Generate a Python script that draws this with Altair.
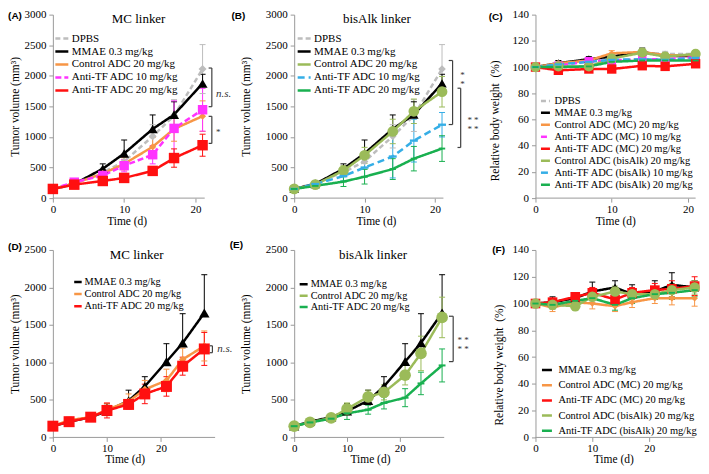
import altair as alt
import pandas as pd

SERIF = "Liberation Serif"
SANS = "Liberation Sans"
AXIS_GREY = "#9a9a9a"
BRACKET = "#404040"
DASH_PATH = "M-1,-0.3L1,-0.3L1,0.3L-1,0.3Z"

# ---------------- time points (days)
days_21 = [0, 3, 7, 10, 14, 17, 21]
days_28 = [0, 3, 7, 10, 14, 17, 21, 24, 28]

# ---------------- tumor volume (mm3), 21-day study (A, B)
tv_dpbs = [150, 250, 420, 600, 1010, 1350, 2110]
tv_dpbs_err = [20, 40, 70, 120, 190, 260, 400]
tv_mmae = [150, 230, 480, 730, 1130, 1365, 1875]
tv_mmae_err = [20, 40, 80, 220, 230, 210, 150]
tv_ctrl_mc = [150, 240, 400, 560, 840, 1130, 1340]
tv_ctrl_mc_err = [20, 40, 60, 100, 150, 200, 250]
tv_tf10_mc = [150, 260, 370, 530, 710, 1140, 1445]
tv_tf10_mc_err = [20, 40, 60, 100, 150, 450, 350]
tv_tf20_mc = [150, 220, 280, 330, 445, 655, 865]
tv_tf20_mc_err = [20, 30, 40, 50, 60, 150, 180]
tv_ctrl_bis = [150, 220, 450, 700, 1090, 1420, 1740]
tv_ctrl_bis_err = [30, 50, 80, 130, 200, 200, 250]
tv_tf10_bis = [150, 230, 360, 500, 680, 940, 1200]
tv_tf10_bis_err = [20, 40, 80, 150, 350, 350, 200]
tv_tf20_bis = [150, 200, 270, 350, 475, 645, 810]
tv_tf20_bis_err = [20, 40, 80, 120, 170, 200, 210]

# ---------------- relative body weight (%), 21-day study (C)
bw_dpbs = [100, 103, 105, 108, 111, 110, 110]
bw_dpbs_err = [0, 2, 2, 2, 3, 2, 2]
bw_mmae = [100, 103, 106, 108, 111.5, 108.5, 108.5]
bw_mmae_err = [0, 2, 2, 2, 3, 2, 4]
bw_ctrl_mc = [100, 103, 105, 110.5, 111.5, 109, 109]
bw_ctrl_mc_err = [0, 1, 1, 2, 2, 2, 2]
bw_tf10_mc = [100, 101, 104.5, 105, 106, 106, 107.5]
bw_tf10_mc_err = [0, 1, 1, 2, 2, 2, 2]
bw_tf20_mc = [100, 97.5, 98.5, 98.5, 101, 100.5, 102.5]
bw_tf20_mc_err = [0, 1, 1, 2, 2, 2, 2]
bw_ctrl_bis = [100, 100.5, 100.5, 106.5, 111, 108, 110]
bw_ctrl_bis_err = [0, 1, 1, 2, 2, 2, 2]
bw_tf10_bis = [100, 102, 104, 105.5, 106, 105.5, 107]
bw_tf10_bis_err = [0, 1, 1, 2, 2, 2, 2]
bw_tf20_bis = [100, 100, 100.5, 104, 105, 105, 105]
bw_tf20_bis_err = [0, 1, 1, 2, 2, 2, 2]

# ---------------- tumor volume (mm3), 28-day study (D, E)
tvl_mmae = [150, 210, 270, 350, 490, 680, 1010, 1260, 1660]
tvl_mmae_err = [20, 30, 40, 100, 140, 130, 240, 390, 510]
tvl_ctrl_mc = [150, 230, 270, 370, 480, 640, 760, 1040, 1220]
tvl_ctrl_mc_err = [20, 40, 40, 80, 100, 120, 150, 150, 200]
tvl_tf20_mc = [150, 210, 270, 360, 440, 580, 680, 950, 1180]
tvl_tf20_mc_err = [20, 30, 40, 100, 60, 130, 130, 120, 220]
tvl_ctrl_bis = [150, 200, 260, 380, 540, 600, 830, 1120, 1600]
tvl_ctrl_bis_err = [20, 40, 40, 80, 90, 100, 130, 230, 270]
tvl_tf20_bis = [150, 200, 250, 320, 370, 460, 530, 720, 960]
tvl_tf20_bis_err = [20, 40, 40, 80, 60, 80, 120, 150, 220]

# ---------------- relative body weight (%), 28-day study (F)
bwl_mmae = [100, 101, 104, 109, 112, 107, 109, 114, 112]
bwl_mmae_err = [0, 4, 3, 7, 5, 7, 8, 9, 5]
bwl_ctrl_mc = [100, 97, 101, 100, 98, 101, 104, 104, 104]
bwl_ctrl_mc_err = [2, 3, 3, 4, 4, 4, 4, 5, 6]
bwl_tf20_mc = [100, 101, 105, 108, 103, 108, 110, 111, 113]
bwl_tf20_mc_err = [2, 3, 3, 4, 4, 4, 5, 6, 7]
bwl_ctrl_bis = [100, 99, 98, 105, 109, 107, 107, 110, 112]
bwl_ctrl_bis_err = [2, 3, 3, 4, 4, 4, 4, 5, 5]
bwl_tf20_bis = [100, 99, 102, 104, 99, 104, 107, 108, 110]
bwl_tf20_bis_err = [2, 3, 3, 4, 4, 4, 4, 5, 5]

# ---------------- significance brackets (x, x_tick, y_low, y_high) and labels
br_A = [(22.3, 21.85, 1495, 2127), (22.3, 21.85, 895, 1337)]
br_A_txt = [(22.9, 1700, "n.s.", True), (23.2, 1080, "*", False)]
br_B = [(22.5, 21.95, 1203, 2250), (23.65, 23.2, 828, 1797)]
br_B_txt = [(23.9, 2020, "*\n*", False), (25.4, 1280, "* *\n* *", False)]
br_D = [(29.5, 29.0, 1130, 1222)]
br_D_txt = [(30.4, 1176, "n.s.", True)]
br_E = [(30.1, 29.3, 1011, 1616)]
br_E_txt = [(32.0, 1300, "* *\n* *", False)]

# ---------------- series styles: colour, dash, marker, marker size
STYLE = {
    "dpbs": ("#BDBDBD", [5, 3], "diamond", 64),
    "mmae": ("#000000", [1, 0], "triangle-up", 100),
    "ctrl_mc": ("#F79646", [1, 0], "diamond", 50),
    "tf10_mc": ("#FF33FF", [6, 3], "square", 90),
    "tf20_mc": ("#FF1010", [1, 0], "square", 110),
    "ctrl_bis": ("#9BBB59", [1, 0], "circle", 130),
    "tf10_bis": ("#35AEE6", [7, 4], DASH_PATH, 70),
    "tf20_bis": ("#19B050", [1, 0], DASH_PATH, 45),
}

W = 160


def panel(cfg):
    rows, caps = [], []
    for label, key, vals, errs in cfg["series"]:
        col, dash, shp, sz = STYLE[key]
        up_only = key == "mmae"
        for t, v, e in zip(cfg["days"], vals, errs):
            lo = v if up_only else v - e
            hi = v + e
            rows.append({"series": label, "t": t, "v": v, "lo": lo, "hi": hi,
                         "col": col, "shp": shp, "sz": sz * cfg["msize"]})
            if e > 0:
                caps.append({"t": t, "y": hi, "col": col})
                if not up_only:
                    caps.append({"t": t, "y": lo, "col": col})
    df = pd.DataFrame(rows)
    cdf = pd.DataFrame(caps)
    labels = [s[0] for s in cfg["series"]]
    keys = [s[1] for s in cfg["series"]]
    colors = [STYLE[k][0] for k in keys]
    dashes = [STYLE[k][1] for k in keys]

    xs = alt.Scale(domain=[0, cfg["xmax"]], nice=False, zero=False)
    ys = alt.Scale(domain=cfg["ydom"], nice=False, zero=False)
    x_axis = alt.Axis(values=[0, 10, 20], domain=False, grid=False, tickSize=4,
                      tickColor=AXIS_GREY, labelPadding=cfg["xlp"], labelFlush=False,
                      labelFont=SERIF, labelFontSize=11, labelColor="black",
                      title="Time (d)", titleFont=SERIF, titleFontSize=11.5,
                      titleFontWeight="normal", titleColor="black",
                      titleX=cfg["xtx"], titleY=cfg["xty"], titleBaseline="middle",
                      titleAlign="center")
    y_axis = alt.Axis(values=cfg["yvals"], format="d", grid=False, tickSize=4,
                      tickColor=AXIS_GREY, domainColor=AXIS_GREY, labelPadding=3,
                      labelFont=SERIF, labelFontSize=11, labelColor="black",
                      title=cfg["ytitle"], titleFont=SERIF, titleFontSize=11.5,
                      titleFontWeight="normal", titleColor="black",
                      titleX=cfg["ytx"], titleY=cfg["yty"], titleAngle=270,
                      titleBaseline="middle", titleAlign="center")
    lgx, lgy, L, fs, rp, lo = cfg["legend"]
    lg = alt.Legend(orient="none", legendX=lgx, legendY=lgy, title=None,
                    symbolType="stroke", symbolSize=L * L, symbolStrokeWidth=2.5,
                    labelFont=SERIF, labelFontSize=fs, labelColor="black",
                    rowPadding=rp, labelOffset=lo, padding=0)

    def X(f):
        return alt.X(f, scale=xs, axis=x_axis)

    def Y(f):
        return alt.Y(f, scale=ys, axis=y_axis)

    layers = []
    axl = alt.Chart(pd.DataFrame({"x0": [0], "x1": [cfg["xend"]], "y0": [cfg["ydom"][0]]})).mark_rule(
        color=AXIS_GREY, strokeWidth=1).encode(x=X("x0:Q"), x2="x1:Q", y=Y("y0:Q"))
    layers.append(axl)

    err = alt.Chart(df).mark_rule(strokeWidth=1).encode(
        x=X("t:Q"), y=Y("lo:Q"), y2="hi:Q", stroke=alt.Stroke("col:N", scale=None))
    layers.append(err)
    capm = alt.Chart(cdf).mark_point(shape="stroke", filled=False, size=36, strokeWidth=1, opacity=1).encode(
        x=X("t:Q"), y=Y("y:Q"), stroke=alt.Stroke("col:N", scale=None))
    layers.append(capm)

    line = alt.Chart(df).mark_line(strokeWidth=2.5, strokeJoin="round").encode(
        x=X("t:Q"), y=Y("v:Q"),
        color=alt.Color("series:N", scale=alt.Scale(domain=labels, range=colors), legend=lg),
        strokeDash=alt.StrokeDash("series:N", scale=alt.Scale(domain=labels, range=dashes), legend=lg),
    )
    layers.append(line)

    pts = alt.Chart(df).mark_point(filled=True, opacity=1, strokeWidth=0).encode(
        x=X("t:Q"), y=Y("v:Q"),
        fill=alt.Fill("col:N", scale=None),
        shape=alt.Shape("shp:N", scale=None),
        size=alt.Size("sz:Q", scale=None))
    layers.append(pts)

    if cfg.get("brackets"):
        segs = []
        for bx, bt, ylo, yhi in cfg["brackets"]:
            segs.append({"x": bx, "x2": bx, "y": ylo, "y2": yhi})
            segs.append({"x": bt, "x2": bx, "y": ylo, "y2": ylo})
            segs.append({"x": bt, "x2": bx, "y": yhi, "y2": yhi})
        layers.append(alt.Chart(pd.DataFrame(segs)).mark_rule(color=BRACKET, strokeWidth=1.2).encode(
            x=X("x:Q"), x2="x2:Q", y=Y("y:Q"), y2="y2:Q"))
        tdf = pd.DataFrame([{"x": a, "y": b, "txt": c, "it": d} for a, b, c, d in cfg["btext"]])
        it = tdf[tdf["it"]]
        pl = tdf[~tdf["it"]]
        if len(it):
            layers.append(alt.Chart(it).mark_text(font=SERIF, fontSize=11, fontStyle="italic",
                                                  align="left", baseline="middle", color="#333333").encode(
                x=X("x:Q"), y=Y("y:Q"), text="txt:N"))
        if len(pl):
            layers.append(alt.Chart(pl).mark_text(font=SERIF, fontSize=9, align="center", baseline="middle",
                                                  lineBreak="\n", lineHeight=9, color="#333333").encode(
                x=X("x:Q"), y=Y("y:Q"), text="txt:N"))

    if cfg.get("title"):
        tt, tx, ty = cfg["title"]
        layers.append(alt.Chart(pd.DataFrame({"s": [tt]})).mark_text(
            font=SERIF, fontSize=13, align="center", baseline="middle", color="black").encode(
            text="s:N", x=alt.value(tx), y=alt.value(ty)))
    lt, lx, ly = cfg["letter"]
    layers.append(alt.Chart(pd.DataFrame({"s": [lt]})).mark_text(
        font=SANS, fontSize=10, fontWeight="bold", align="center", baseline="middle", color="black").encode(
        text="s:N", x=alt.value(lx), y=alt.value(ly)))

    return alt.layer(*layers).properties(width=W, height=cfg["h"])


TV_TITLE = "Tumor volume (mm³)"
BW_TITLE = "Relative body weight\u00a0 (%)"
TV_TICKS_3000 = [0, 500, 1000, 1500, 2000, 2500, 3000]
TV_TICKS_2500 = [0, 500, 1000, 1500, 2000, 2500]
BW_TICKS = [0, 20, 40, 60, 80, 100, 120, 140]

cfgA = dict(days=days_21, xmax=22.38, xend=21.3, ydom=[0, 3000], yvals=TV_TICKS_3000, h=184,
            ytitle=TV_TITLE, ytx=-37, yty=92, xtx=74, xty=23, xlp=1.5, msize=1.0,
            legend=(1, 16, 13, 11, -1.8, 2), title=("MC linker", 86, 4), letter=("(A)", -38, 1),
            brackets=br_A, btext=br_A_txt,
            series=[("DPBS", "dpbs", tv_dpbs, tv_dpbs_err),
                    ("MMAE 0.3 mg/kg", "mmae", tv_mmae, tv_mmae_err),
                    ("Control ADC 20 mg/kg", "ctrl_mc", tv_ctrl_mc, tv_ctrl_mc_err),
                    ("Anti-TF ADC 10 mg/kg", "tf10_mc", tv_tf10_mc, tv_tf10_mc_err),
                    ("Anti-TF ADC 20 mg/kg", "tf20_mc", tv_tf20_mc, tv_tf20_mc_err)])
cfgB = dict(days=days_21, xmax=22.66, xend=21.2, ydom=[0, 3000], yvals=TV_TICKS_3000, h=184,
            ytitle=TV_TITLE, ytx=-48, yty=92, xtx=82, xty=23, xlp=1.5, msize=0.9,
            legend=(2, 16, 13, 11, -1.8, 2), title=("bisAlk linker", 83, 4), letter=("(B)", -56, 1),
            brackets=br_B, btext=br_B_txt,
            series=[("DPBS", "dpbs", tv_dpbs, tv_dpbs_err),
                    ("MMAE 0.3 mg/kg", "mmae", tv_mmae, tv_mmae_err),
                    ("Control ADC 20 mg/kg", "ctrl_bis", tv_ctrl_bis, tv_ctrl_bis_err),
                    ("Anti-TF ADC 10 mg/kg", "tf10_bis", tv_tf10_bis, tv_tf10_bis_err),
                    ("Anti-TF ADC 20 mg/kg", "tf20_bis", tv_tf20_bis, tv_tf20_bis_err)])
cfgC = dict(days=days_21, xmax=20.92, xend=21.0, ydom=[0, 140], yvals=BW_TICKS, h=184,
            ytitle=BW_TITLE, ytx=-40, yty=106, xtx=80, xty=23, xlp=1.5, msize=0.8,
            legend=(4, 80.5, 9, 10.5, -0.25, 3), letter=("(C)", -40, 2),
            series=[("DPBS", "dpbs", bw_dpbs, bw_dpbs_err),
                    ("MMAE 0.3 mg/kg", "mmae", bw_mmae, bw_mmae_err),
                    ("Control ADC (MC) 20 mg/kg", "ctrl_mc", bw_ctrl_mc, bw_ctrl_mc_err),
                    ("Anti-TF ADC (MC) 10 mg/kg", "tf10_mc", bw_tf10_mc, bw_tf10_mc_err),
                    ("Anti-TF ADC (MC) 20 mg/kg", "tf20_mc", bw_tf20_mc, bw_tf20_mc_err),
                    ("Control ADC (bisAlk) 20 mg/kg", "ctrl_bis", bw_ctrl_bis, bw_ctrl_bis_err),
                    ("Anti-TF ADC (bisAlk) 10 mg/kg", "tf10_bis", bw_tf10_bis, bw_tf10_bis_err),
                    ("Anti-TF ADC (bisAlk) 20 mg/kg", "tf20_bis", bw_tf20_bis, bw_tf20_bis_err)])
cfgD = dict(days=days_28, xmax=29.5, xend=30.0, ydom=[0, 2500], yvals=TV_TICKS_2500, h=188,
            ytitle=TV_TITLE, ytx=-37, yty=94, xtx=72, xty=22, xlp=1, msize=1.1,
            legend=(20, 27, 7.5, 10.3, 1.1, 1.5), title=("MC linker", 84, 5), letter=("(D)", -38, -3),
            brackets=br_D, btext=br_D_txt,
            series=[("MMAE 0.3 mg/kg", "mmae", tvl_mmae, tvl_mmae_err),
                    ("Control ADC 20 mg/kg", "ctrl_mc", tvl_ctrl_mc, tvl_ctrl_mc_err),
                    ("Anti-TF ADC 20 mg/kg", "tf20_mc", tvl_tf20_mc, tvl_tf20_mc_err)])
cfgE = dict(days=days_28, xmax=30.2, xend=28.4, ydom=[0, 2500], yvals=TV_TICKS_2500, h=188,
            ytitle=TV_TITLE, ytx=-48, yty=94, xtx=76, xty=22, xlp=1, msize=1.05,
            legend=(4, 29, 8, 10.3, 0.4, 1.5), title=("bisAlk linker", 79, 5), letter=("(E)", -58, -5),
            brackets=br_E, btext=br_E_txt,
            series=[("MMAE 0.3 mg/kg", "mmae", tvl_mmae, tvl_mmae_err),
                    ("Control ADC 20 mg/kg", "ctrl_bis", tvl_ctrl_bis, tvl_ctrl_bis_err),
                    ("Anti-TF ADC 20 mg/kg", "tf20_bis", tvl_tf20_bis, tvl_tf20_bis_err)])
cfgF = dict(days=days_28, xmax=28.07, xend=28.0, ydom=[0, 140], yvals=BW_TICKS, h=188,
            ytitle=BW_TITLE, ytx=-36, yty=115, xtx=78, xty=22, xlp=1, msize=0.85,
            legend=(5, 114, 10, 10.5, 3.2, 5), letter=("(F)", -37, 0),
            series=[("MMAE 0.3 mg/kg", "mmae", bwl_mmae, bwl_mmae_err),
                    ("Control ADC (MC) 20 mg/kg", "ctrl_mc", bwl_ctrl_mc, bwl_ctrl_mc_err),
                    ("Anti-TF ADC (MC) 20 mg/kg", "tf20_mc", bwl_tf20_mc, bwl_tf20_mc_err),
                    ("Control ADC (bisAlk) 20 mg/kg", "ctrl_bis", bwl_ctrl_bis, bwl_ctrl_bis_err),
                    ("Anti-TF ADC (bisAlk) 20 mg/kg", "tf20_bis", bwl_tf20_bis, bwl_tf20_bis_err)])

panels = [panel(c) for c in (cfgA, cfgB, cfgC, cfgD, cfgE, cfgF)]

chart = alt.concat(*panels, columns=3, spacing={"row": 52, "column": 82}, bounds="flush")
chart = chart.resolve_scale(x="independent", y="independent", color="independent",
                            strokeDash="independent").resolve_legend(
    color="independent", strokeDash="independent").resolve_axis(x="independent", y="independent")
chart = (chart.configure_view(stroke=None)
         .configure_legend(labelFont=SERIF, labelColor="black")
         .configure_axis(labelFont=SERIF, titleFont=SERIF)
         .configure_text(font=SERIF)
         .properties(padding=0, background="white"))

chart.save("out.html", embed_options={"renderer": "svg", "actions": False})
